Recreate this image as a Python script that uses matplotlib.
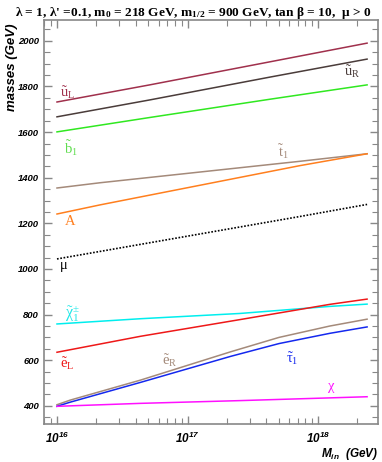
import numpy as np
import matplotlib
matplotlib.use("Agg")
import matplotlib.pyplot as plt
from matplotlib.ticker import MultipleLocator, FixedLocator, LogLocator, NullFormatter

plt.rcParams['mathtext.fontset'] = 'custom'
plt.rcParams['mathtext.rm'] = 'Liberation Serif'
plt.rcParams['mathtext.it'] = 'Liberation Serif:italic'
plt.rcParams['mathtext.bf'] = 'Liberation Serif:bold'
plt.rcParams['mathtext.sf'] = 'Liberation Sans:italic:bold'

# log10(M_in / GeV) sample points and masses (GeV)
lx_lin = [16.0, 16.71, 17.63, 18.375]
m_uL = [1732, 1807, 1908, 1990]
m_uR = [1667, 1741, 1841, 1920]
m_b1 = [1601, 1664, 1744, 1807]

lx_t = [16.0, 16.33, 17.86, 18.375]
m_t1 = [1355, 1378, 1472, 1505]
m_A = [1241, 1281, 1453, 1505]
m_mu = [1044, 1077, 1230, 1283]

lx_sl = [16.0, 16.64, 17.40, 18.09, 18.375]
m_eL = [635, 705, 778, 845, 868]
m_chipm = [759, 782, 805, 836, 846]
m_chi = [398, 411, 423, 435, 440]

lx_r = [16.0, 16.1, 16.64, 17.33, 17.7, 18.09, 18.375]
m_eR = [405, 425, 513, 637, 700, 750, 780]
m_tau = [398, 416, 503, 617, 673, 718, 746]

fig = plt.figure(figsize=(3.82, 4.62), dpi=100)
ax = fig.add_axes([0.115, 0.082, 0.875, 0.875])

def X(lx):
    return 10 ** np.array(lx)

lw = 1.1
ax.plot(X(lx_lin), m_uL, color='#a0304c', lw=lw)
ax.plot(X(lx_lin), m_uR, color='#4a3c3a', lw=lw)
ax.plot(X(lx_lin), m_b1, color='#30e820', lw=lw)
ax.plot(X(lx_t), m_t1, color='#a48a7a', lw=lw)
ax.plot(X(lx_t), m_A, color='#ff7f1e', lw=lw)
ax.plot(X(lx_t), m_mu, color='black', lw=1.2, linestyle=(0, (1, 1)))
ax.plot(X(lx_sl), m_chipm, color='#00eeee', lw=lw)
ax.plot(X(lx_sl), m_eL, color='#ee1818', lw=lw)
ax.plot(X(lx_r), m_eR, color='#a48a7a', lw=lw)
ax.plot(X(lx_r), m_tau, color='#1428ee', lw=lw)
ax.plot(X(lx_sl), m_chi, color='#ff10ff', lw=lw)

fs = 10.5
ax.text(X(16.08), 1775, r"$\mathrm{\tilde{u}_L}$", color='#a0304c', fontsize=fs, ha='center', va='center')
ax.text(X(18.26), 1865, r"$\mathrm{\tilde{u}_R}$", color='#4a3c3a', fontsize=fs, ha='center', va='center')
ax.text(X(16.11), 1530, r"$\mathrm{\tilde{b}_1}$", color='#60dd50', fontsize=fs, ha='center', va='center')
ax.text(X(17.73), 1515, r"$\mathrm{\tilde{t}_1}$", color='#a48a7a', fontsize=fs, ha='center', va='center')
ax.text(X(16.10), 1212, r"$\mathrm{A}$", color='#ff7f1e', fontsize=fs, ha='center', va='center')
ax.text(X(16.05), 1012, r"$\mathrm{\mu}$", color='black', fontsize=fs, ha='center', va='center')
ax.text(X(16.12), 805, r"$\mathrm{\tilde{\chi}_1^{\pm}}$", color='#20e8e8', fontsize=11.5, ha='center', va='center')
ax.text(X(16.08), 585, r"$\mathrm{\tilde{e}_L}$", color='#ee1818', fontsize=fs, ha='center', va='center')
ax.text(X(16.86), 598, r"$\mathrm{\tilde{e}_R}$", color='#a48a7a', fontsize=fs, ha='center', va='center')
ax.text(X(17.80), 606, r"$\mathrm{\tilde{\tau}_1}$", color='#1428ee', fontsize=fs, ha='center', va='center')
ax.text(X(18.10), 480, r"$\mathrm{\chi}$", color='#ff10ff', fontsize=fs, ha='center', va='center')

ax.set_xscale('log')
ax.set_xlim(10 ** 15.9, 10 ** 18.46)
ax.set_ylim(320, 2092)

ax.xaxis.set_major_locator(FixedLocator([1e16, 1e17, 1e18]))
ax.xaxis.set_minor_locator(LogLocator(base=10, subs=np.arange(2, 10)))
ax.xaxis.set_minor_formatter(NullFormatter())
ax.set_xticklabels([r"$\mathsf{10^{16}}$", r"$\mathsf{10^{17}}$", r"$\mathsf{10^{18}}$"], fontsize=8.5)

ax.yaxis.set_major_locator(MultipleLocator(200))
ax.yaxis.set_minor_locator(MultipleLocator(50))
for lab in ax.get_yticklabels():
    lab.set_fontfamily('Liberation Sans')
    lab.set_fontstyle('italic')
    lab.set_fontweight('bold')
    lab.set_fontsize(6.8)

ax.tick_params(which='both', direction='in', top=True, right=True, color='#888888')
ax.tick_params(which='major', length=6, width=1)
ax.tick_params(which='minor', length=4, width=0.8)
ax.tick_params(axis='x', pad=5)
for s in ax.spines.values():
    s.set_color('#888888')
    s.set_linewidth(1.2)

ax.set_ylabel("masses (GeV)", loc='top', fontsize=9.5, family='Liberation Sans',
              style='italic', weight='bold')
ax.yaxis.set_label_coords(-0.078, 0.99)
ax.set_xlabel(r"$\mathsf{M_{in}}$  (GeV)", loc='right', fontsize=8.5, family='Liberation Sans',
              style='italic', weight='bold', labelpad=0)

fig.text(0.505, 0.99, r"λ = 1, λ' =0.1, m$_\mathbf{0}$ = 218 GeV, m$_\mathbf{1/2}$ = 900 GeV, tan β = 10,  μ > 0",
         fontsize=9.6, family='Liberation Serif', weight='bold', ha='center', va='top')

fig.savefig("out.png", dpi=100)
